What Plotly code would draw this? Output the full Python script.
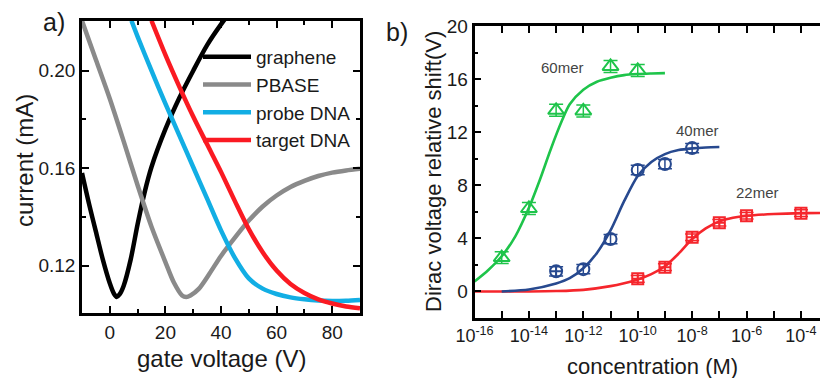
import plotly.graph_objects as go

# ---------------- panel a: transfer curves (current vs gate voltage) ----------------
gate_graphene = [-10, -7.5, -5, -2.5, 0, 1.5, 2.5, 3.5, 5, 7.5, 10, 12.5, 15, 20, 25, 30, 35, 40, 45]
cur_graphene = [0.158, 0.1455, 0.134, 0.1225, 0.1128, 0.1085, 0.1072, 0.1082, 0.1118, 0.1225, 0.1370,
                0.1500, 0.1605, 0.1760, 0.1888, 0.2000, 0.2105, 0.2190, 0.2265]

gate_pbase = [-10, -5, 0, 5, 10, 15, 20, 23, 26, 27.5, 29, 32, 36, 40, 45, 50, 55, 60, 65, 70, 75, 80, 85, 90]
cur_pbase = [0.2205, 0.2045, 0.1885, 0.1710, 0.1530, 0.1360, 0.1215, 0.1132, 0.1078, 0.1072, 0.1078,
             0.1105, 0.1170, 0.1240, 0.1315, 0.1385, 0.1443, 0.1488, 0.1523, 0.1548, 0.1568, 0.1582,
             0.1591, 0.1598]

gate_probe = [7.8, 10, 15, 20, 25, 30, 35, 40, 45, 50, 55, 60, 65, 70, 75, 80, 85, 90]
cur_probe = [0.2205, 0.2140, 0.2000, 0.1865, 0.1735, 0.1605, 0.1475, 0.1345, 0.1232, 0.1148, 0.1106,
             0.1084, 0.1070, 0.1062, 0.1057, 0.1055, 0.1056, 0.1059]

gate_target = [15, 20, 25, 30, 35, 40, 45, 50, 55, 60, 65, 70, 75, 80, 85, 90]
cur_target = [0.2205, 0.2065, 0.1935, 0.1812, 0.1698, 0.1585, 0.1465, 0.1350, 0.1255, 0.1180, 0.1125,
              0.1088, 0.1062, 0.1045, 0.1033, 0.1025]

# ---------------- panel b: Dirac point shift vs target concentration ----------------
conc_60 = [1e-15, 1e-14, 1e-13, 1e-12, 1e-11, 1e-10]
shift_60 = [2.55, 6.25, 13.65, 13.6, 16.95, 16.65]
err_60 = [0.45, 0.45, 0.45, 0.45, 0.45, 0.45]

conc_40 = [1e-13, 1e-12, 1e-11, 1e-10, 1e-9, 1e-8]
shift_40 = [1.52, 1.68, 3.95, 9.15, 9.6, 10.8]
err_40 = [0.35, 0.35, 0.35, 0.35, 0.35, 0.35]

conc_22 = [1e-10, 1e-9, 1e-8, 1e-7, 1e-6, 1e-4]
shift_22 = [0.95, 1.83, 4.08, 5.18, 5.7, 5.9]
err_22 = [0.25, 0.25, 0.25, 0.25, 0.25, 0.25]

# fitted response curves
fit_conc_60 = [1e-16, 10**-15.5, 1e-15, 10**-14.5, 1e-14, 10**-13.6, 10**-13.2, 10**-12.8, 10**-12.5,
               1e-12, 10**-11.5, 1e-11, 10**-10.5, 1e-10, 10**-9.5, 1e-9]
fit_shift_60 = [0.75, 1.6, 2.65, 4.15, 6.3, 8.4, 10.7, 12.8, 14.1, 15.2, 15.8, 16.1, 16.3, 16.38, 16.42, 16.45]

fit_conc_40 = [1e-15, 1e-14, 1e-13, 10**-12.5, 1e-12, 10**-11.5, 1e-11, 10**-10.5, 1e-10, 10**-9.5,
               1e-9, 10**-8.5, 1e-8, 10**-7.5, 1e-7]
fit_shift_40 = [0.0, 0.15, 0.6, 1.0, 1.75, 2.9, 4.6, 6.8, 8.7, 9.75, 10.35, 10.65, 10.78, 10.85, 10.88]

fit_conc_22 = [1e-16, 1e-14, 1e-13, 1e-12, 1e-11, 10**-10.5, 1e-10, 10**-9.5, 1e-9, 10**-8.5, 1e-8,
               10**-7.5, 1e-7, 10**-6.5, 1e-6, 1e-5, 1e-4, 1e-3]
fit_shift_22 = [0.0, 0.0, 0.03, 0.12, 0.4, 0.62, 0.9, 1.3, 1.9, 2.85, 3.95, 4.75, 5.28, 5.55, 5.7,
                5.83, 5.9, 5.92]

# axis ranges
range_gate = [-10, 90]
range_cur = [0.1006, 0.2204]
range_log_conc = [-16, -3.3]
range_shift = [-2, 20]

decade_ticks = [10.0 ** k for k in range(-16, -3)]
decade_text = ["10<sup>%d</sup>" % k if k % 2 == 0 else "" for k in range(-16, -3)]

BLACK, GRAY, CYAN, RED = "#000000", "#8a8a8a", "#12aee4", "#fa1a22"
GREEN, NAVY, RED2 = "#1ec44a", "#27498f", "#f5262c"
FONT = "Arial, Liberation Sans, sans-serif"
TEXT = "#1a1a1a"

fig = go.Figure()

curves_a = [
    ("graphene", gate_graphene, cur_graphene, BLACK),
    ("PBASE", gate_pbase, cur_pbase, GRAY),
    ("probe DNA", gate_probe, cur_probe, CYAN),
    ("target DNA", gate_target, cur_target, RED),
]
for name, xs, ys, col in curves_a:
    fig.add_trace(go.Scatter(x=xs, y=ys, name=name, mode="lines",
                             line=dict(color=col, width=4.5, shape="spline", smoothing=0.8),
                             xaxis="x", yaxis="y", showlegend=True))

# fitted lines (22mer first so the 40mer line sits on top of its flat tail)
for xs, ys, col in [(fit_conc_22, fit_shift_22, RED2), (fit_conc_40, fit_shift_40, NAVY),
                    (fit_conc_60, fit_shift_60, GREEN)]:
    fig.add_trace(go.Scatter(x=xs, y=ys, mode="lines", showlegend=False,
                             line=dict(color=col, width=2.6, shape="spline", smoothing=0.8),
                             xaxis="x2", yaxis="y2"))

points_b = [
    (conc_22, shift_22, err_22, RED2, ["square-cross-open"] * 6, 11),
    (conc_40, shift_40, err_40, NAVY, ["circle-cross-open"] + ["circle-open"] * 5, 12),
    (conc_60, shift_60, err_60, GREEN, ["triangle-up-open"] * 6, 14),
]
for xs, ys, es, col, syms, size in points_b:
    fig.add_trace(go.Scatter(x=xs, y=ys, mode="markers", showlegend=False,
                             marker=dict(symbol=syms, size=size, color=col, line=dict(width=2, color=col)),
                             error_y=dict(type="data", array=es, color=col, thickness=1.5, width=7),
                             xaxis="x2", yaxis="y2"))

W, H = 820, 378
axis_common = dict(showgrid=False, zeroline=False, showline=True, linecolor="#000000", linewidth=2.5,
                   ticks="inside", tickcolor="#000000", tickwidth=2, ticklen=7, automargin=False,
                   tickfont=dict(family=FONT, size=19, color=TEXT))

fig.update_layout(
    width=W, height=H, margin=dict(l=0, r=0, t=0, b=0, pad=0, autoexpand=False),
    paper_bgcolor="white", plot_bgcolor="white",
    font=dict(family=FONT, color=TEXT),
    xaxis=dict(domain=[82 / W, 360 / W], range=range_gate, tick0=0, dtick=20, mirror="ticks",
               minor=dict(dtick=10, ticks="inside", ticklen=4, tickwidth=2, tickcolor="#000000"),
               anchor="y", **axis_common),
    yaxis=dict(domain=[1 - 313 / H, 1 - 21 / H], range=range_cur, tick0=0.12, dtick=0.04,
               tickformat=".2f", mirror="ticks",
               minor=dict(dtick=0.02, ticks="inside", ticklen=4, tickwidth=2, tickcolor="#000000"),
               anchor="x", **axis_common),
    # panel b's box runs on past the right edge, so only its top is mirrored
    xaxis2=dict(domain=[474.5 / W, 1.0], type="log", range=range_log_conc, tickmode="array",
                tickvals=decade_ticks, ticktext=decade_text, mirror="ticks", anchor="y2",
                **{**axis_common, "tickfont": dict(family=FONT, size=18, color=TEXT)}),
    yaxis2=dict(domain=[1 - 318 / H, 1 - 26 / H], range=range_shift, tick0=0, dtick=4, mirror=False,
                minor=dict(dtick=2, ticks="inside", ticklen=4, tickwidth=2, tickcolor="#000000"),
                anchor="x2", **axis_common),
    legend=dict(x=198 / W, y=1 - 38 / H, xanchor="left", yanchor="top", bgcolor="rgba(0,0,0,0)",
                font=dict(family=FONT, size=19, color=TEXT), itemwidth=48, tracegroupgap=0,
                borderwidth=0),
)

def note(text, x, y, size, angle=0, xref="paper", yref="paper", color=TEXT):
    fig.add_annotation(text=text, x=x, y=y, xref=xref, yref=yref, showarrow=False,
                       textangle=angle, xanchor="center", yanchor="middle",
                       font=dict(family=FONT, size=size, color=color))

note("a)", 54 / W, 1 - 22 / H, 25)
note("b)", 397 / W, 1 - 32 / H, 25)
note("gate voltage (V)", 221 / W, 1 - 358 / H, 24)
note("current (mA)", 24 / W, 1 - 161 / H, 24, angle=-90)
note("concentration (M)", 652 / W, 1 - 366 / H, 22)
note("Dirac voltage relative shift(V)", 433 / W, 1 - 172 / H, 22, angle=-90)
note("60mer", -12.75, 16.9, 15, xref="x2", yref="y2", color="#444444")
note("40mer", -7.82, 12.1, 15, xref="x2", yref="y2", color="#444444")
note("22mer", -5.58, 7.45, 15, xref="x2", yref="y2", color="#444444")

fig.write_html("out.html")
